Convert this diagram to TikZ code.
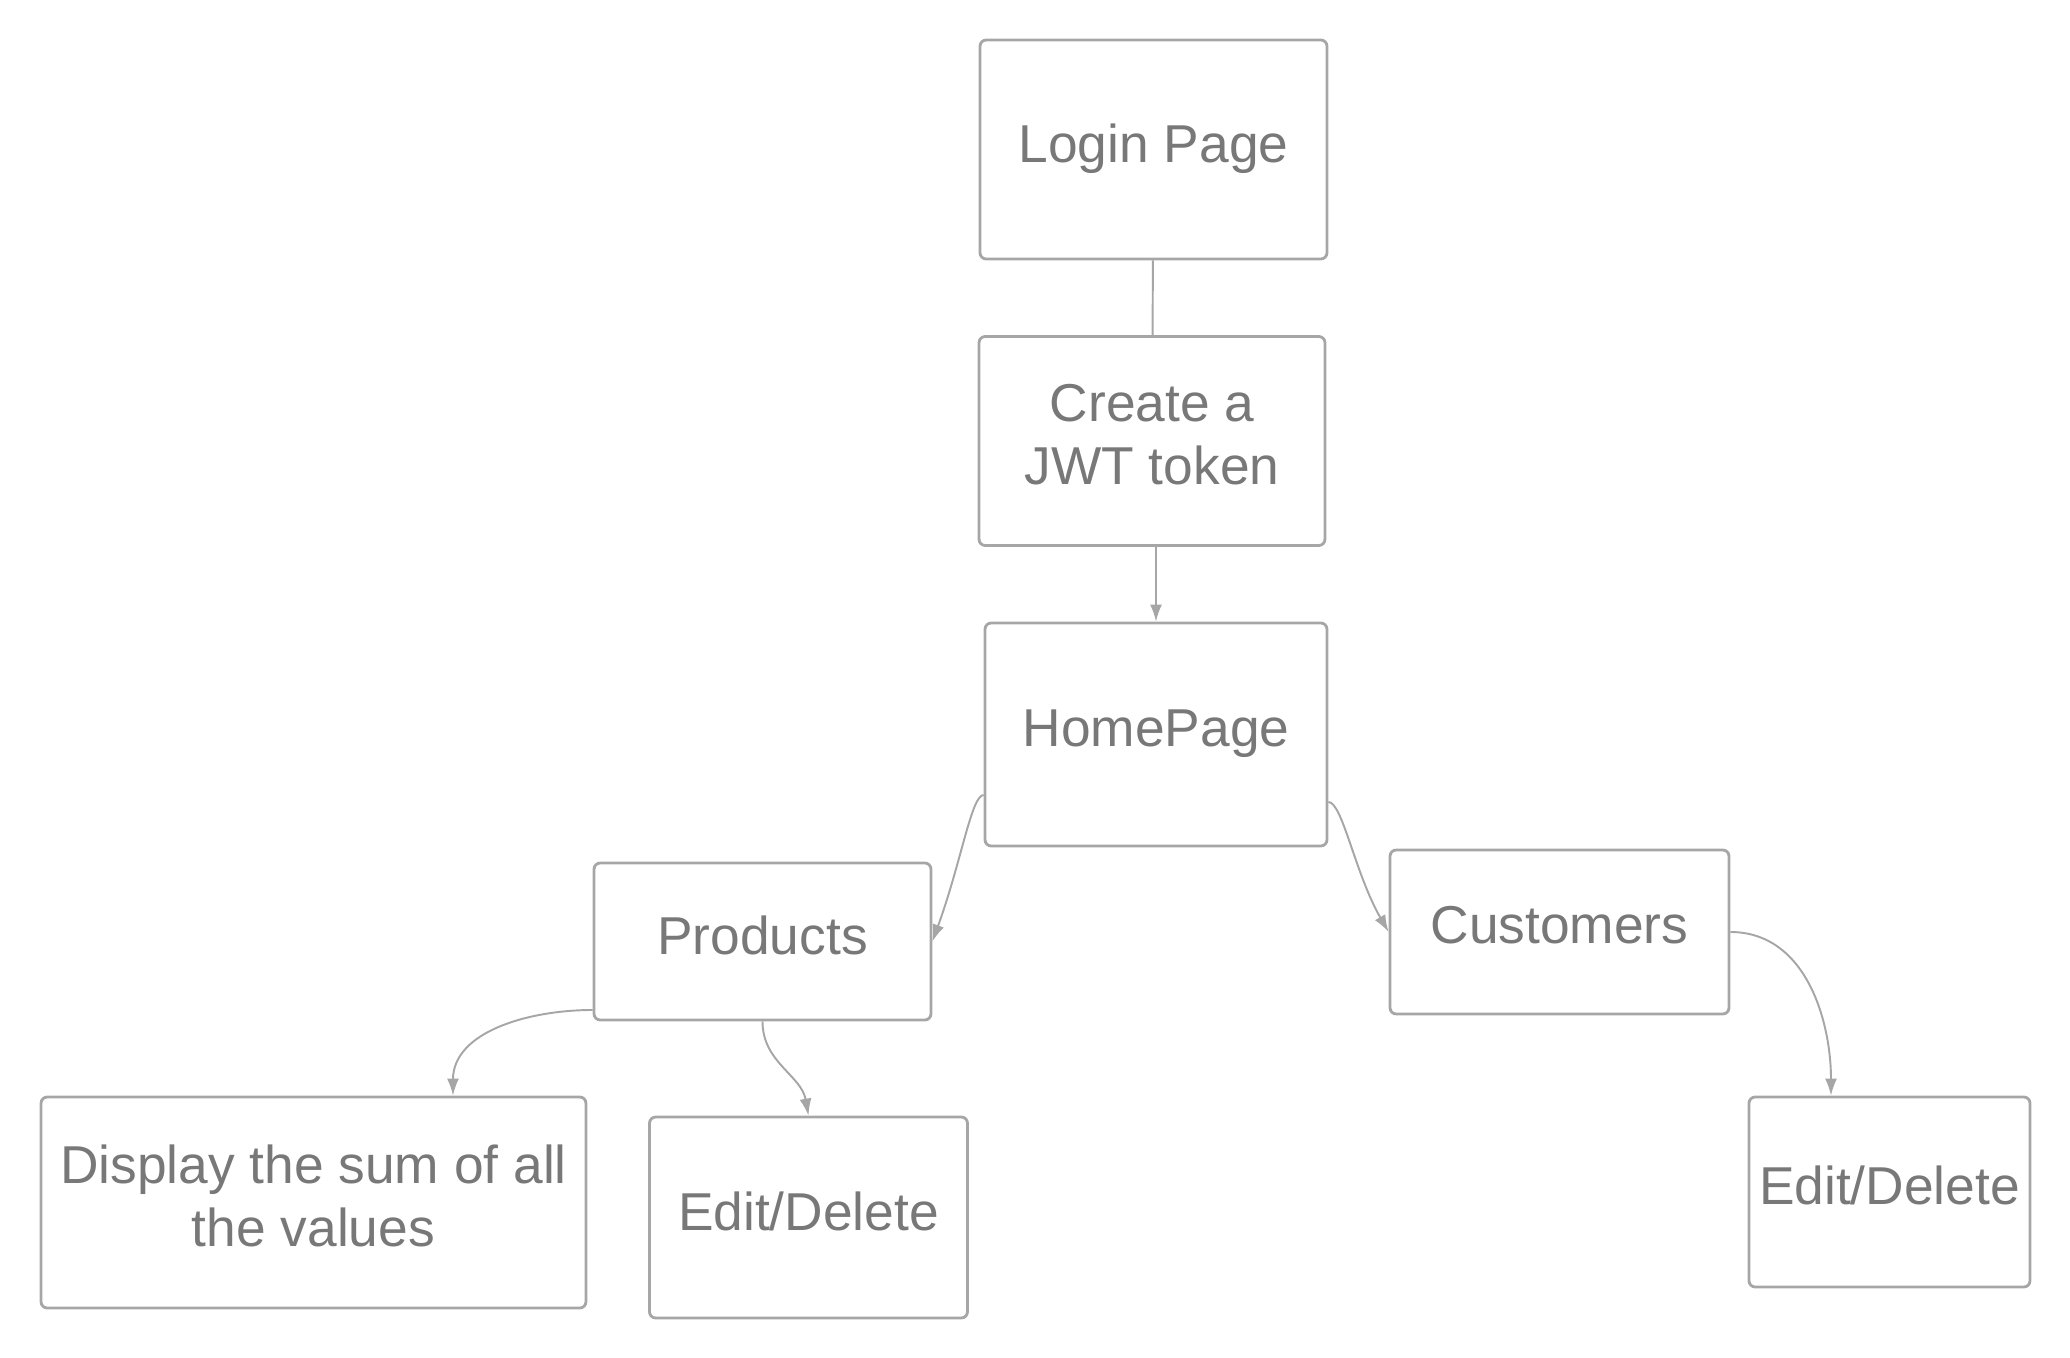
\documentclass[tikz,border=0pt]{standalone}
\usepackage{fontspec}
\setmainfont{Liberation Sans}
\usepackage{xcolor}
\usetikzlibrary{arrows.meta,positioning,calc}
\definecolor{edgegray}{HTML}{A6A6A6}
\definecolor{textgray}{HTML}{787878}
\tikzset{
  box/.style={draw=edgegray, rounded corners=3.5pt, line width=1.6pt, align=center, text=textgray,
    font=\fontsize{30.35}{36}\selectfont, text depth=7.6pt, inner sep=2pt, minimum width=6.9cm, minimum height=4.2cm},
  smallbox/.style={box, minimum width=6.76cm, minimum height=3.2cm},
  link/.style={draw=edgegray, line width=1.1pt},
  line/.style={link, -{Latex[length=0.34cm, width=0.24cm]}}
}
\begin{document}
\begin{tikzpicture}[x=0.02cm, y=-0.02cm]
  \useasboundingbox (0,0) rectangle (2070,1358);
  \node[box, minimum width=6.94cm, minimum height=4.38cm] (login) at (1153.5,149.5) {Login Page};
  \node[box, minimum width=6.92cm, minimum height=4.18cm] (jwt) at (1152,441) {Create a\\JWT token};
  \node[box, minimum width=6.84cm, minimum height=4.46cm] (home) at (1156,734.5) {HomePage};
  \node[smallbox, minimum width=6.74cm, minimum height=3.14cm] (products) at (762.5,941.5) {Products};
  \node[smallbox, minimum width=6.78cm, minimum height=3.28cm] (customers) at (1559.5,932) {Customers};
  \node[box, minimum width=10.9cm, minimum height=4.22cm] (sum) at (313.5,1202.5) {Display the sum of all\\the values};
  \node[box, minimum width=6.36cm, minimum height=4.02cm] (prodedit) at (808.5,1217.5) {Edit/Delete};
  \node[box, minimum width=5.62cm, minimum height=3.8cm] (custedit) at (1889.5,1192) {Edit/Delete};
  \draw[link] (login) -- (jwt);
  \draw[line] (jwt.south -| home.north) -- (home.north);
  \draw[line] ([yshift=-1.21cm]home.west) to[out=180, in=70, out looseness=0.2, in looseness=1.4] (products.east);
  \draw[line] ([yshift=-1.35cm]home.east) to[out=0, in=120, out looseness=0.25, in looseness=1.2] (customers.west);
  \draw[line] ([yshift=-1.37cm]products.west) to[out=180, in=90] ([xshift=2.79cm]sum.north);
  \draw[line] (products.south) to[out=-90, in=100] (prodedit.north);
  \draw[line] (customers.east) to[out=0, in=90] ([xshift=-1.17cm]custedit.north);
\end{tikzpicture}
\end{document}
